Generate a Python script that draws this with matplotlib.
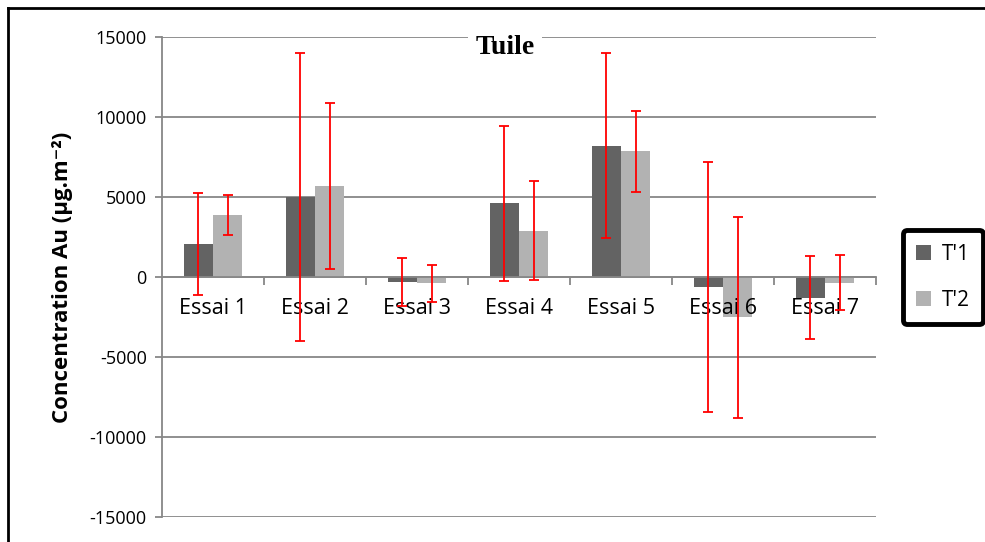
import matplotlib
matplotlib.use("Agg")
import matplotlib.pyplot as plt
from matplotlib.lines import Line2D
from matplotlib.patches import Patch
import numpy as np

# data
essais = ["Essai 1", "Essai 2", "Essai 3", "Essai 4", "Essai 5", "Essai 6", "Essai 7"]
t1_values = [2050, 5000, -320, 4600, 8200, -630, -1300]
t1_errors = [3180, 9000, 1490, 4830, 5780, 7820, 2590]
t2_values = [3880, 5700, -400, 2900, 7850, -2530, -360]
t2_errors = [1240, 5180, 1150, 3100, 2520, 6290, 1720]
series_labels = ["T'1", "T'2"]
y_ticks = [-15000, -10000, -5000, 0, 5000, 10000, 15000]

COLOR_T1 = "#636363"
COLOR_T2 = "#b2b2b2"
GRID = "#878787"
ERR = "#ff0000"

plt.rcParams["font.family"] = ["Open Sans", "DejaVu Sans"]

fig = plt.figure(figsize=(9.85, 5.42), dpi=100)
ax = fig.add_axes([162 / 985, 1 - 517 / 542, 714 / 985, 480 / 542])

x = np.arange(len(essais))
width = 0.285
err_kw = dict(ecolor=ERR, elinewidth=1.3, capsize=3.3, capthick=1.3, zorder=4)

ax.bar(x - width / 2, t1_values, width, color=COLOR_T1, zorder=2,
       yerr=t1_errors, error_kw=err_kw, label=series_labels[0])
ax.bar(x + width / 2, t2_values, width, color=COLOR_T2, zorder=2,
       yerr=t2_errors, error_kw=err_kw, label=series_labels[1])

ax.set_xlim(-0.5, len(essais) - 0.5)
ax.set_ylim(-15000, 15000)
ax.set_yticks(y_ticks)
ax.set_yticklabels([str(v) for v in y_ticks])
ax.grid(axis="y", color=GRID, linewidth=1.3, zorder=0)
ax.set_axisbelow(True)
# category labels sit on top of the bars, under the error bars
ax.xaxis.set_zorder(3)

for side in ("top", "right"):
    ax.spines[side].set_visible(False)
ax.spines["left"].set_color(GRID)
ax.spines["left"].set_linewidth(1.3)
ax.spines["bottom"].set_position(("data", 0))
ax.spines["bottom"].set_color(GRID)
ax.spines["bottom"].set_linewidth(1.3)
ax.spines["bottom"].set_zorder(2.5)

ax.tick_params(axis="y", direction="out", length=5, width=1.3, color=GRID,
               labelsize=13, pad=6)
ax.set_xticks(x)
ax.set_xticklabels(essais)
ax.tick_params(axis="x", which="major", length=0, labelsize=15.5, pad=15)
ax.set_xticks(np.arange(0.5, len(essais) - 0.4, 1.0), minor=True)
ax.tick_params(axis="x", which="minor", direction="out", length=6, width=1.3,
               color=GRID)

ax.set_ylabel("Concentration Au (µg.m⁻²)", fontsize=16, fontweight="bold")
ax.yaxis.set_label_coords(-0.125, 0.5)

fig.text(505 / 985, 1 - 48 / 542, "Tuile", family="Liberation Serif",
         fontsize=20, fontweight="bold", ha="center", va="center",
         bbox=dict(facecolor="white", edgecolor="none", pad=5))

handles = [Patch(facecolor=COLOR_T1), Patch(facecolor=COLOR_T2)]
leg = fig.legend(handles, series_labels, loc="center",
                 bbox_to_anchor=(943 / 985, 1 - 277 / 542), fontsize=15,
                 handlelength=0.7, handleheight=0.7, handletextpad=0.5,
                 labelspacing=1.2, borderpad=0.55, fancybox=True,
                 framealpha=1, edgecolor="black")
leg.get_frame().set_linewidth(3.5)
leg.get_frame().set_boxstyle("round", pad=0.1, rounding_size=0.2)

# outer frame lines on the left and top
fig.add_artist(Line2D([7.5 / 985, 7.5 / 985], [0, 1 - 7.5 / 542],
                      color="black", linewidth=2, transform=fig.transFigure))
fig.add_artist(Line2D([7.5 / 985, 1], [1 - 7.5 / 542, 1 - 7.5 / 542],
                      color="black", linewidth=2, transform=fig.transFigure))

fig.savefig("out.png", dpi=100)
